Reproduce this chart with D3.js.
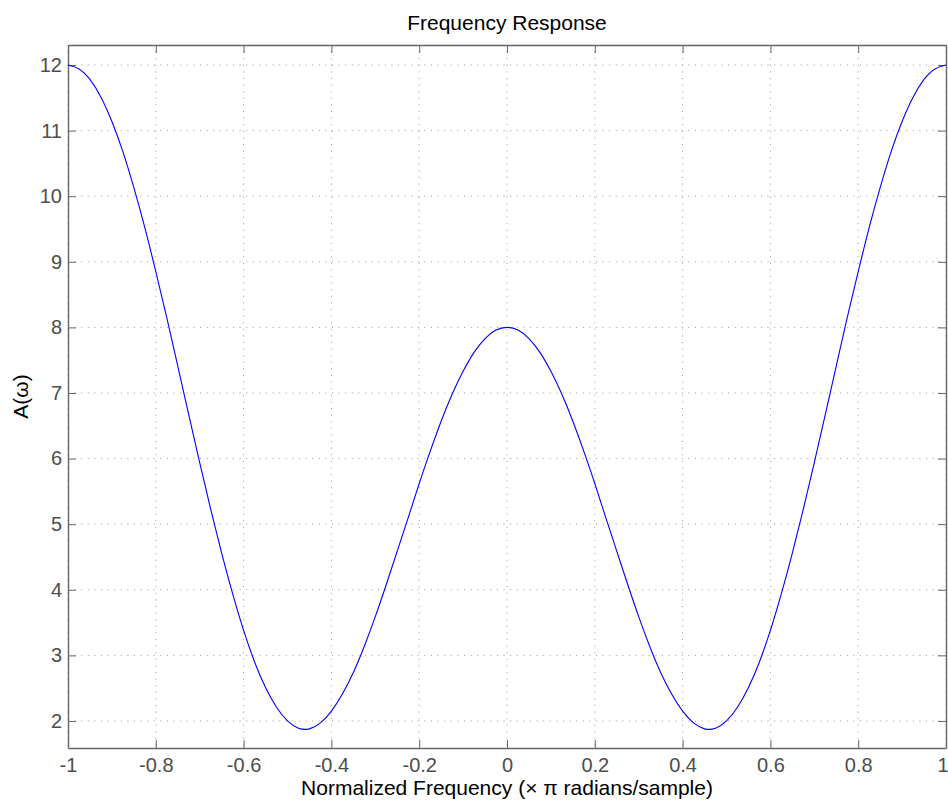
<!DOCTYPE html>
<html lang="en">
<head>
    <meta charset="UTF-8">
    <title>Frequency Response</title>
    <style>
        body { margin: 0; background: #fff; font-family: 'Liberation Sans', Arial, sans-serif; }
        .axis path, .axis line { stroke: #666; }
        .axis text { fill: #4d4d4d; font-size: 20px; font-family: 'Liberation Sans', Arial, sans-serif; }
        .grid line { stroke: #999; stroke-dasharray: 1, 5.6; }
    </style>
</head>
<body>
<div id="chart"></div>
<script src="https://d3js.org/d3.v7.min.js"></script>
<script>
    // normalized frequency (x pi rad/sample) and amplitude
    const freq = [-1, -0.975, -0.95, -0.925, -0.9, -0.875, -0.85, -0.825, -0.8, -0.775,
                  -0.75, -0.725, -0.7, -0.675, -0.65, -0.625, -0.6, -0.575, -0.55, -0.525,
                  -0.5, -0.475, -0.45, -0.425, -0.4, -0.375, -0.35, -0.325, -0.3, -0.275,
                  -0.25, -0.225, -0.2, -0.175, -0.15, -0.125, -0.1, -0.075, -0.05, -0.025,
                  0,
                  0.025, 0.05, 0.075, 0.1, 0.125, 0.15, 0.175, 0.2, 0.225, 0.25,
                  0.275, 0.3, 0.325, 0.35, 0.375, 0.4, 0.425, 0.45, 0.475, 0.5,
                  0.525, 0.55, 0.575, 0.6, 0.625, 0.65, 0.675, 0.7, 0.725, 0.75,
                  0.775, 0.8, 0.825, 0.85, 0.875, 0.9, 0.925, 0.95, 0.975, 1];
    const amp = [12, 11.94, 11.78, 11.51, 11.14, 10.68, 10.13, 9.52, 8.85, 8.15,
                 7.41, 6.67, 5.94, 5.23, 4.56, 3.94, 3.38, 2.90, 2.51, 2.21,
                 2.00, 1.89, 1.88, 1.97, 2.15, 2.41, 2.74, 3.14, 3.59, 4.08,
                 4.59, 5.10, 5.62, 6.11, 6.57, 6.98, 7.33, 7.62, 7.83, 7.96,
                 8.00,
                 7.96, 7.83, 7.62, 7.33, 6.98, 6.57, 6.11, 5.62, 5.10, 4.59,
                 4.08, 3.59, 3.14, 2.74, 2.41, 2.15, 1.97, 1.88, 1.89, 2.00,
                 2.21, 2.51, 2.90, 3.38, 3.94, 4.56, 5.23, 5.94, 6.67, 7.41,
                 8.15, 8.85, 9.52, 10.13, 10.68, 11.14, 11.51, 11.78, 11.94, 12];
    const xTicks = [-1, -0.8, -0.6, -0.4, -0.2, 0, 0.2, 0.4, 0.6, 0.8, 1];
    const yTicks = [2, 3, 4, 5, 6, 7, 8, 9, 10, 11, 12];

    const width = 948, height = 800;
    const margin = { top: 45, right: 2, bottom: 52, left: 68 };
    const w = width - margin.left - margin.right;
    const h = height - margin.top - margin.bottom;

    const svg = d3.select("#chart").append("svg")
        .attr("width", width)
        .attr("height", height);
    const g = svg.append("g").attr("transform", `translate(${margin.left},${margin.top})`);

    const x = d3.scaleLinear().domain([-1, 1]).range([0, w]);
    const y = d3.scaleLinear().domain([1.588, 12.305]).range([h, 0]);

    // dotted grid
    g.append("g").attr("class", "grid")
        .selectAll("line").data(xTicks).join("line")
        .attr("x1", d => x(d)).attr("x2", d => x(d))
        .attr("y1", 0).attr("y2", h);
    g.append("g").attr("class", "grid")
        .selectAll("line").data(yTicks).join("line")
        .attr("x1", 0).attr("x2", w)
        .attr("y1", d => y(d)).attr("y2", d => y(d));

    // axes with inward ticks, box on all four sides
    const fmt = d => d3.format("")(d);
    g.append("g").attr("class", "axis xaxis")
        .attr("transform", `translate(0,${h})`)
        .call(d3.axisBottom(x).tickValues(xTicks).tickFormat(fmt).tickSizeInner(-8).tickSizeOuter(0).tickPadding(10));
    g.append("g").attr("class", "axis")
        .call(d3.axisTop(x).tickValues(xTicks).tickFormat("").tickSizeInner(-8).tickSizeOuter(0));
    g.append("g").attr("class", "axis")
        .call(d3.axisLeft(y).tickValues(yTicks).tickFormat(fmt).tickSizeInner(-8).tickSizeOuter(0).tickPadding(6));
    g.append("g").attr("class", "axis")
        .attr("transform", `translate(${w},0)`)
        .call(d3.axisRight(y).tickValues(yTicks).tickFormat("").tickSizeInner(-8).tickSizeOuter(0));
    g.selectAll(".axis path").attr("stroke-width", 1.4);
    g.selectAll(".axis .tick text").text(function () { return this.textContent.replace("\u2212", "-"); });
    // last x label sits on the right edge of the window
    g.selectAll(".xaxis .tick text").filter(d => d === 1)
        .attr("text-anchor", "end").attr("x", 2);

    // the response curve
    const line = d3.line()
        .x((d, i) => x(freq[i]))
        .y(d => y(d))
        .curve(d3.curveNatural);
    g.append("path")
        .datum(amp)
        .attr("fill", "none")
        .attr("stroke", "#0000ff")
        .attr("stroke-width", 1.1)
        .attr("d", line);

    // labels
    svg.append("text")
        .attr("x", margin.left + w / 2).attr("y", 30)
        .attr("text-anchor", "middle")
        .attr("font-size", 21)
        .text("Frequency Response");
    svg.append("text")
        .attr("x", margin.left + w / 2).attr("y", 795)
        .attr("text-anchor", "middle")
        .attr("font-size", 21)
        .text("Normalized Frequency (\u00d7 \u03c0 radians/sample)");
    svg.append("text")
        .attr("transform", `translate(28,${margin.top + h / 2}) rotate(-90)`)
        .attr("text-anchor", "middle")
        .attr("font-size", 21)
        .text("A(\u03c9)");
</script>
</body>
</html>
